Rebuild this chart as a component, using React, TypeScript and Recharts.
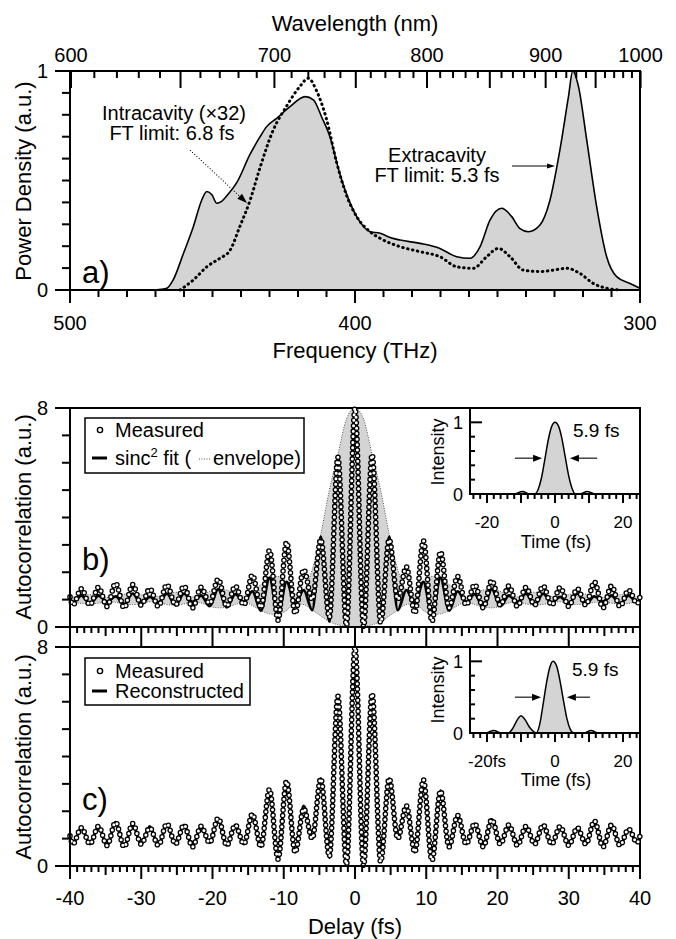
import React from 'react';
import {
  ComposedChart,
  Area,
  Line,
  XAxis,
  YAxis,
  ReferenceArea,
  ReferenceLine,
  CartesianGrid,
} from 'recharts';

const FONT = '"Liberation Sans", Arial, Helvetica, sans-serif';
const C_NM_THZ = 299792.458;
const GRAY = '#d4d4d4';

// ---------------- Panel a: spectra ----------------
const extFreq = [472, 468, 466, 463.8, 460.2, 456.7, 453.8, 452.0, 450.2, 448.5, 446.8, 445, 441.5, 436.8, 433.3, 431, 427.5, 422.8, 417.5, 414.6, 411.7, 408.8, 405.3, 401.8, 398.2, 394.7, 391.2, 387.7, 384.2, 377.2, 370.2, 364.3, 359.6, 356.1, 352.6, 348.5, 345, 342.1, 339.2, 335.1, 331.6, 328.1, 325.1, 323.6, 321.6, 318.7, 315.2, 311.7, 308.2, 303.5, 300];
const extPower = [0, 0.003, 0.008, 0.046, 0.167, 0.29, 0.41, 0.45, 0.435, 0.396, 0.405, 0.43, 0.49, 0.62, 0.7, 0.746, 0.784, 0.837, 0.883, 0.868, 0.79, 0.7, 0.53, 0.4, 0.31, 0.266, 0.259, 0.24, 0.228, 0.213, 0.19, 0.152, 0.145, 0.198, 0.32, 0.373, 0.335, 0.28, 0.266, 0.297, 0.41, 0.64, 0.883, 1.0, 0.93, 0.685, 0.38, 0.152, 0.061, 0.03, 0.008];
const intraFreq = [461.4, 456.7, 452, 447.4, 443.9, 440.4, 436.8, 433.3, 428.7, 424, 419.3, 416.4, 413.5, 410, 406.4, 402.9, 399.4, 394.7, 391.2, 384.2, 377.2, 370.2, 364.3, 358.5, 353.8, 349.7, 345.6, 341, 335.1, 330.4, 325.7, 321.1, 316.4, 311.7, 307];
const intraPower = [0, 0.046, 0.106, 0.145, 0.18, 0.29, 0.41, 0.56, 0.73, 0.84, 0.93, 0.967, 0.91, 0.78, 0.58, 0.43, 0.335, 0.266, 0.236, 0.198, 0.175, 0.152, 0.106, 0.099, 0.152, 0.19, 0.152, 0.091, 0.084, 0.091, 0.099, 0.076, 0.03, 0.008, 0];

const freqTicks = Array.from({ length: 21 }, (_, i) => 300 + 10 * i);
const freqLabels = [300, 400, 500];
const wavelengthTicks = Array.from({ length: 41 }, (_, i) => 600 + 10 * i);
const wavelengthLabels = [600, 700, 800, 900, 1000];
const powerTicks = [0, 0.1, 0.2, 0.3, 0.4, 0.5, 0.6, 0.7, 0.8, 0.9, 1];

// ---------------- Panels b, c: autocorrelation ----------------
const delays = [-40, -39.6, -38.4, -37.2, -36, -34.8, -33.6, -32.4, -31.2, -30, -28.8, -27.6, -26.4, -25.2, -24, -22.8, -21.6, -20.4, -19.2, -18, -16.8, -15.6, -14.4, -13.2, -12, -10.8, -9.6, -8.4, -7.2, -6, -4.8, -3.6, -2.4, -1.2, 0, 1.2, 2.4, 3.6, 4.8, 6, 7.2, 8.4, 9.6, 10.8, 12, 13.2, 14.4, 15.6, 16.8, 18, 19.2, 20.4, 21.6, 22.8, 24, 25.2, 26.4, 27.6, 28.8, 30, 31.2, 32.4, 33.6, 34.8, 36, 37.2, 38.4, 39.6, 40];
const measured = [1.1, 0.8, 1.4, 0.8, 1.45, 0.75, 1.6, 0.7, 1.55, 0.8, 1.4, 0.75, 1.55, 0.8, 1.5, 0.7, 1.45, 0.85, 1.75, 0.75, 1.5, 0.8, 1.9, 0.7, 2.8, 0.25, 3.1, 0.5, 2.1, 1.0, 3.2, 0.35, 6.2, 0.05, 8.0, 0.0, 6.3, 0.15, 3.2, 1.0, 2.2, 0.5, 3.15, 0.2, 2.75, 0.7, 1.85, 0.8, 1.55, 0.7, 1.7, 0.8, 1.5, 0.75, 1.45, 0.8, 1.5, 0.8, 1.45, 0.75, 1.4, 0.8, 1.65, 0.7, 1.5, 0.75, 1.35, 0.85, 1.1];
const sincFit = [1.0, 0.9, 1.15, 0.85, 1.15, 0.93, 1.12, 0.84, 1.22, 0.85, 1.1, 0.9, 1.22, 0.8, 1.22, 0.92, 1.15, 0.76, 1.38, 0.72, 1.2, 0.92, 1.3, 0.6, 1.8, 0.45, 1.65, 0.85, 1.35, 0.62, 3.3, 0.2, 6.2, 0.02, 8.0, 0.02, 6.2, 0.2, 3.3, 0.62, 1.35, 0.85, 1.65, 0.45, 1.8, 0.6, 1.3, 0.92, 1.2, 0.72, 1.38, 0.76, 1.15, 0.92, 1.22, 0.8, 1.22, 0.9, 1.1, 0.85, 1.22, 0.84, 1.12, 0.93, 1.15, 0.85, 1.15, 0.9, 1.0];
const envelopeHigh = [1.1, 1.1, 1.15, 1.18, 1.15, 1.08, 1.12, 1.2, 1.22, 1.18, 1.1, 1.12, 1.22, 1.27, 1.22, 1.1, 1.15, 1.3, 1.38, 1.35, 1.2, 1.1, 1.3, 1.55, 1.8, 1.85, 1.65, 1.2, 1.35, 2.1, 3.4, 5.0, 6.3, 7.6, 8.0, 7.6, 6.3, 5.0, 3.4, 2.1, 1.35, 1.2, 1.65, 1.85, 1.8, 1.55, 1.3, 1.1, 1.2, 1.35, 1.38, 1.3, 1.15, 1.1, 1.22, 1.27, 1.22, 1.12, 1.1, 1.18, 1.22, 1.2, 1.12, 1.08, 1.15, 1.18, 1.15, 1.1, 1.1];
const envelopeLow = [0.9, 0.9, 0.86, 0.85, 0.87, 0.93, 0.9, 0.84, 0.82, 0.85, 0.92, 0.9, 0.82, 0.8, 0.84, 0.92, 0.88, 0.76, 0.7, 0.72, 0.82, 0.92, 0.78, 0.6, 0.48, 0.45, 0.6, 0.85, 0.82, 0.62, 0.4, 0.2, 0.08, 0.02, 0, 0.02, 0.08, 0.2, 0.4, 0.62, 0.82, 0.85, 0.6, 0.45, 0.48, 0.6, 0.78, 0.92, 0.82, 0.72, 0.7, 0.76, 0.88, 0.92, 0.84, 0.8, 0.82, 0.9, 0.92, 0.85, 0.82, 0.84, 0.9, 0.93, 0.87, 0.85, 0.86, 0.9, 0.9];
const reconstructed = [1.1, 0.8, 1.4, 0.8, 1.45, 0.75, 1.6, 0.72, 1.5, 0.8, 1.45, 0.75, 1.5, 0.8, 1.5, 0.72, 1.45, 0.85, 1.7, 0.75, 1.5, 0.8, 1.9, 0.7, 2.75, 0.3, 3.1, 0.5, 2.2, 1.0, 3.2, 0.3, 6.2, 0.03, 8.0, 0.03, 6.25, 0.2, 3.2, 1.0, 2.2, 0.5, 3.1, 0.25, 2.75, 0.7, 1.85, 0.8, 1.55, 0.72, 1.7, 0.8, 1.5, 0.75, 1.45, 0.8, 1.5, 0.8, 1.45, 0.75, 1.4, 0.8, 1.6, 0.72, 1.5, 0.75, 1.35, 0.85, 1.1];

const delayTicks = Array.from({ length: 81 }, (_, i) => i - 40);
const delayLabels = [-40, -30, -20, -10, 0, 10, 20, 30, 40];
const acTicks = [0, 1, 2, 3, 4, 5, 6, 7, 8];

// ---------------- Insets: retrieved pulses ----------------
const pulseTimeB = [-25, -12, -9.6, -7.5, -6, -5, -4, -3, -2, -1, 0, 1, 2, 3, 4, 5, 6, 7.5, 9.4, 12, 25];
const pulseB = [0, 0, 0.035, 0, 0, 0.06, 0.22, 0.48, 0.75, 0.94, 1.0, 0.95, 0.78, 0.52, 0.26, 0.08, 0, 0, 0.035, 0, 0];
const pulseTimeC = [-25, -20.5, -18, -15.8, -13.7, -12.5, -11, -10, -9, -7.5, -6, -5.5, -4.5, -3.5, -2.5, -1.5, -0.6, 0.5, 1.5, 2.5, 3.5, 4.5, 5.5, 8.5, 10.6, 12.7, 25];
const pulseC = [0, 0, 0.035, 0, 0, 0.06, 0.19, 0.24, 0.2, 0.08, 0.01, 0, 0.12, 0.4, 0.7, 0.92, 1.0, 0.93, 0.72, 0.45, 0.2, 0.05, 0, 0, 0.035, 0, 0];
const insetTimeTicks = Array.from({ length: 25 }, (_, i) => -24 + 2 * i);
const insetTimeLabels = [-20, 0, 20];
const insetIntensityTicks = [0, 0.2, 0.4, 0.6, 0.8, 1];

// ---------------- tables ----------------
const spectrumRows = [
  ...extFreq.map((f, i) => ({ f, ext: extPower[i] })),
  ...intraFreq.map((f, i) => ({ f, intra: intraPower[i] })),
].sort((a, b) => b.f - a.f);

const acRows = delays.map((t, i) => ({
  t,
  meas: measured[i],
  fit: sincFit[i],
  rec: reconstructed[i],
  envHi: envelopeHigh[i],
  envLo: envelopeLow[i],
  env: [envelopeLow[i], envelopeHigh[i]],
}));

const pulseRowsB = pulseTimeB.map((t, i) => ({ t, v: pulseB[i] }));
const pulseRowsC = pulseTimeC.map((t, i) => ({ t, v: pulseC[i] }));

// ---------------- helpers ----------------
type TickCfg = {
  dx: number;
  dy: number;
  lenOf: (v: number) => number;
  labelOf: (v: number) => string | null;
  lx: number;
  ly: number;
  anchor: 'start' | 'middle' | 'end';
  fsz: number;
};

function CustomTick(props: any) {
  const { x, y, payload, cfg } = props;
  const c: TickCfg = cfg;
  const v = payload.value;
  const len = c.lenOf(v);
  const lab = c.labelOf(v);
  return (
    <g>
      {len > 0 && (
        <line x1={x} y1={y} x2={x + c.dx * len} y2={y + c.dy * len} stroke="#000" strokeWidth={2} />
      )}
      {lab != null && (
        <text x={x + c.lx} y={y + c.ly} textAnchor={c.anchor} fontSize={c.fsz} fontFamily={FONT} fill="#000">
          {lab}
        </text>
      )}
    </g>
  );
}

const near = (a: number, list: number[]) => list.some((b) => Math.abs(a - b) < 1e-6);

function makeArrow(dashed: boolean, headLen: number, headW: number) {
  return (p: any) => {
    const x1 = Number(p.x1);
    const y1 = Number(p.y1);
    const x2 = Number(p.x2);
    const y2 = Number(p.y2);
    const a = Math.atan2(y2 - y1, x2 - x1);
    const bx = x2 - Math.cos(a) * headLen;
    const by = y2 - Math.sin(a) * headLen;
    const nx = (-Math.sin(a) * headW) / 2;
    const ny = (Math.cos(a) * headW) / 2;
    return (
      <g>
        <line x1={x1} y1={y1} x2={bx} y2={by} stroke="#000" strokeWidth={1.1} strokeDasharray={dashed ? '1 2' : undefined} />
        <polygon points={`${x2},${y2} ${bx + nx},${by + ny} ${bx - nx},${by - ny}`} fill="#000" />
      </g>
    );
  };
}

const axisLineStyle = { stroke: '#000', strokeWidth: 2 };
const noAnim = { isAnimationActive: false };

// tick configs
const freqBottomCfg: TickCfg = {
  dx: 0, dy: 1,
  lenOf: (v) => (near(v, freqLabels) ? 13 : 7),
  labelOf: (v) => (near(v, freqLabels) ? String(v) : null),
  lx: 0, ly: 40, anchor: 'middle', fsz: 20,
};
const wavelengthTopCfg: TickCfg = {
  dx: 0, dy: 1,
  lenOf: (v) => (Math.round(C_NM_THZ / v) % 50 === 0 ? 17 : 7),
  labelOf: (v) => {
    const l = Math.round(C_NM_THZ / v);
    return wavelengthLabels.includes(l) ? String(l) : null;
  },
  lx: 0, ly: -9, anchor: 'middle', fsz: 20,
};
const powerLeftCfg: TickCfg = {
  dx: -1, dy: 0,
  lenOf: (v) => (v === 0 || v === 1 ? 15 : 8),
  labelOf: (v) => (v === 0 || v === 1 ? String(v) : null),
  lx: -22, ly: 7, anchor: 'end', fsz: 20,
};
const acLeftCfg: TickCfg = {
  dx: -1, dy: 0,
  lenOf: (v) => (v === 0 || v === 8 ? 15 : 8),
  labelOf: (v) => (v === 0 || v === 8 ? String(v) : null),
  lx: -22, ly: 7, anchor: 'end', fsz: 20,
};
const delayBottomCfgB: TickCfg = {
  dx: 0, dy: 1,
  lenOf: (v) => (v % 10 === 0 ? 12 : v % 5 === 0 ? 9 : 6),
  labelOf: () => null,
  lx: 0, ly: 0, anchor: 'middle', fsz: 20,
};
const delayBottomCfgC: TickCfg = {
  dx: 0, dy: 1,
  lenOf: (v) => (v % 10 === 0 ? 13 : v % 5 === 0 ? 9 : 6),
  labelOf: (v) => (near(v, delayLabels) ? String(v) : null),
  lx: 0, ly: 39, anchor: 'middle', fsz: 20,
};
const delayTopCfgC: TickCfg = {
  dx: 0, dy: -1,
  lenOf: (v) => (v % 10 === 0 ? 8 : 0),
  labelOf: () => null,
  lx: 0, ly: 0, anchor: 'middle', fsz: 20,
};
const insetLeftCfg: TickCfg = {
  dx: 1, dy: 0,
  lenOf: (v) => (v === 0 || v === 1 ? 12 : 5),
  labelOf: (v) => (v === 0 || v === 1 ? String(v) : null),
  lx: -7, ly: 7, anchor: 'end', fsz: 18,
};
const insetBottomCfg = (firstLabel: string): TickCfg => ({
  dx: 0, dy: 1,
  lenOf: (v) => (v % 10 === 0 ? 9 : 5),
  labelOf: (v) => (near(v, insetTimeLabels) ? (v === -20 ? firstLabel : String(v)) : null),
  lx: 0, ly: 34, anchor: 'middle', fsz: 17,
});

const Inset = ({ rows, top, firstLabel, arrows }: { rows: any[]; top: number; firstLabel: string; arrows: number[][] }) => (
  <div style={{ position: 'absolute', left: 420, top }}>
    <ComposedChart width={220} height={150} data={rows} margin={{ top: 0, right: 0, bottom: 0, left: 0 }}>
      <CartesianGrid fill="#fff" horizontal={false} vertical={false} />
      <XAxis dataKey="t" type="number" domain={[-25, 25]} ticks={insetTimeTicks} interval={0} height={150 - 86}
        tickLine={false} tickSize={0} tickMargin={0} axisLine={axisLineStyle} tick={<CustomTick cfg={insetBottomCfg(firstLabel)} />} />
      <YAxis type="number" domain={[0, 1.2]} ticks={insetIntensityTicks} interval={0} width={50}
        tickLine={false} tickSize={0} tickMargin={0} axisLine={axisLineStyle} tick={<CustomTick cfg={insetLeftCfg} />} />
      <Area dataKey="v" type="monotone" fill={GRAY} fillOpacity={1} stroke="#000" strokeWidth={1.5} dot={false} activeDot={false} {...noAnim} />
      <ReferenceArea x1={-25} x2={25} y1={0} y2={1.2} fill="none" stroke="#000" strokeWidth={2} />
      {arrows.map((a, i) => (
        <ReferenceLine key={i} segment={[{ x: a[0], y: 0.5 }, { x: a[1], y: 0.5 }]} shape={makeArrow(false, 9, 7)} />
      ))}
    </ComposedChart>
  </div>
);

export default function App() {
  return (
    <div style={{ position: 'absolute', left: 0, top: 0, width: 676, height: 939, background: '#fff', overflow: 'hidden' }}>
      {/* Panel a */}
      <div style={{ position: 'absolute', left: 0, top: 0 }}>
        <ComposedChart width={676} height={345} data={spectrumRows} margin={{ top: 0, right: 36, bottom: 0, left: 0 }}>
          <XAxis xAxisId="bot" dataKey="f" type="number" domain={[300, 500]} reversed ticks={freqTicks} interval={0}
            height={55} tickLine={false} tickSize={0} tickMargin={0} axisLine={axisLineStyle} tick={<CustomTick cfg={freqBottomCfg} />} />
          <XAxis xAxisId="top" orientation="top" dataKey="f" type="number" domain={[300, 500]} reversed
            ticks={wavelengthTicks.map((l) => C_NM_THZ / l)} interval={0} height={71} tickLine={false} tickSize={0} tickMargin={0}
            axisLine={axisLineStyle} tick={<CustomTick cfg={wavelengthTopCfg} />} />
          <YAxis yAxisId="l" type="number" domain={[0, 1]} ticks={powerTicks} interval={0} width={70}
            tickLine={false} tickSize={0} tickMargin={0} axisLine={axisLineStyle} tick={<CustomTick cfg={powerLeftCfg} />} />
          <Area xAxisId="bot" yAxisId="l" dataKey="ext" type="monotone" fill={GRAY} fillOpacity={1} stroke="#000"
            strokeWidth={1.6} connectNulls dot={false} activeDot={false} {...noAnim} />
          <Line xAxisId="top" yAxisId="l" dataKey="intra" type="monotone" stroke="#000" strokeWidth={3}
            strokeDasharray="0.5 4.5" strokeLinecap="round" connectNulls dot={false} activeDot={false} {...noAnim} />
          <ReferenceArea xAxisId="bot" yAxisId="l" x1={300} x2={500} y1={0} y2={1} fill="none" stroke="#000" strokeWidth={2} />
          <ReferenceLine xAxisId="bot" yAxisId="l" segment={[{ x: 457.9, y: 0.639 }, { x: 437.9, y: 0.397 }]} shape={makeArrow(true, 10, 7)} />
          <ReferenceLine xAxisId="bot" yAxisId="l" segment={[{ x: 344.9, y: 0.566 }, { x: 329.8, y: 0.566 }]} shape={makeArrow(false, 8, 5)} />
        </ComposedChart>
      </div>

      {/* Panel b */}
      <div style={{ position: 'absolute', left: 0, top: 340 }}>
        <ComposedChart width={676} height={310} data={acRows} margin={{ top: 68, right: 36, bottom: 0, left: 0 }}>
          <XAxis dataKey="t" type="number" domain={[-40, 40]} ticks={delayTicks} interval={0} height={23}
            tickLine={false} tickSize={0} tickMargin={0} axisLine={axisLineStyle} tick={<CustomTick cfg={delayBottomCfgB} />} />
          <YAxis type="number" domain={[0, 8]} ticks={acTicks} interval={0} width={70}
            tickLine={false} tickSize={0} tickMargin={0} axisLine={axisLineStyle} tick={<CustomTick cfg={acLeftCfg} />} />
          <Area dataKey="env" type="monotone" fill={GRAY} fillOpacity={1} stroke="none" dot={false} activeDot={false} {...noAnim} />
          <Line dataKey="envHi" type="monotone" stroke="#555" strokeWidth={1} strokeDasharray="1 1.5" dot={false} activeDot={false} {...noAnim} />
          <Line dataKey="envLo" type="monotone" stroke="#555" strokeWidth={1} strokeDasharray="1 1.5" dot={false} activeDot={false} {...noAnim} />
          <Line dataKey="fit" type="monotone" stroke="#000" strokeWidth={2.8} dot={false} activeDot={false} {...noAnim} />
          <Line dataKey="meas" type="monotone" stroke="#000" strokeWidth={5.6} strokeDasharray="0 5.5" strokeLinecap="round" dot={false} activeDot={false} {...noAnim} />
          <Line dataKey="meas" type="monotone" stroke="#fff" strokeWidth={3} strokeDasharray="0 5.5" strokeLinecap="round" dot={false} activeDot={false} {...noAnim} />
          <ReferenceArea x1={-40} x2={40} y1={0} y2={8} fill="none" stroke="#000" strokeWidth={2} />
        </ComposedChart>
      </div>

      {/* Panel c */}
      <div style={{ position: 'absolute', left: 0, top: 620 }}>
        <ComposedChart width={676} height={319} data={acRows} margin={{ top: 0, right: 36, bottom: 0, left: 0 }}>
          <XAxis xAxisId="bot" dataKey="t" type="number" domain={[-40, 40]} ticks={delayTicks} interval={0} height={73}
            tickLine={false} tickSize={0} tickMargin={0} axisLine={axisLineStyle} tick={<CustomTick cfg={delayBottomCfgC} />} />
          <XAxis xAxisId="top" orientation="top" dataKey="t" type="number" domain={[-40, 40]} ticks={delayLabels} interval={0} height={27}
            tickLine={false} tickSize={0} tickMargin={0} axisLine={axisLineStyle} tick={<CustomTick cfg={delayTopCfgC} />} />
          <YAxis yAxisId="l" type="number" domain={[0, 8]} ticks={acTicks} interval={0} width={70}
            tickLine={false} tickSize={0} tickMargin={0} axisLine={axisLineStyle} tick={<CustomTick cfg={acLeftCfg} />} />
          <Line xAxisId="bot" yAxisId="l" dataKey="rec" type="monotone" stroke="#000" strokeWidth={2.8} dot={false} activeDot={false} {...noAnim} />
          <Line xAxisId="bot" yAxisId="l" dataKey="meas" type="monotone" stroke="#000" strokeWidth={5.6} strokeDasharray="0 5.5" strokeLinecap="round" dot={false} activeDot={false} {...noAnim} />
          <Line xAxisId="top" yAxisId="l" dataKey="meas" type="monotone" stroke="#fff" strokeWidth={3} strokeDasharray="0 5.5" strokeLinecap="round" dot={false} activeDot={false} {...noAnim} />
          <ReferenceArea xAxisId="bot" yAxisId="l" x1={-40} x2={40} y1={0} y2={8} fill="none" stroke="#000" strokeWidth={2} />
        </ComposedChart>
      </div>

      {/* Insets */}
      <Inset rows={pulseRowsB} top={408} firstLabel="-20" arrows={[[-11.8, -3.8], [12.4, 4.4]]} />
      <Inset rows={pulseRowsC} top={647} firstLabel="-20fs" arrows={[[-11.8, -4.1], [10.3, 3.5]]} />

      {/* Text overlay */}
      <svg width={676} height={939} style={{ position: 'absolute', left: 0, top: 0, pointerEvents: 'none' }} fontFamily={FONT}>
        <text x={355} y={31} fontSize={22} textAnchor="middle">Wavelength (nm)</text>
        <text x={355} y={358} fontSize={22} textAnchor="middle">Frequency (THz)</text>
        <text x={355} y={934} fontSize={22} textAnchor="middle">Delay (fs)</text>
        <text transform="translate(31,181) rotate(-90)" fontSize={22} textAnchor="middle">Power Density (a.u.)</text>
        <text transform="translate(31,517) rotate(-90)" fontSize={22} textAnchor="middle">Autocorrelation (a.u.)</text>
        <text transform="translate(31,757) rotate(-90)" fontSize={22} textAnchor="middle">Autocorrelation (a.u.)</text>

        <text x={82} y={283} fontSize={31}>a)</text>
        <text x={82} y={570} fontSize={31}>b)</text>
        <text x={82} y={810} fontSize={31}>c)</text>

        <text x={174} y={120} fontSize={20} textAnchor="middle">Intracavity (×32)</text>
        <text x={172} y={140} fontSize={20} textAnchor="middle">FT limit: 6.8 fs</text>
        <text x={437} y={162} fontSize={20} textAnchor="middle">Extracavity</text>
        <text x={437} y={182} fontSize={20} textAnchor="middle">FT limit: 5.3 fs</text>

        {/* legend b */}
        <rect x={85} y={418} width={219} height={55} fill="#fff" stroke="#000" strokeWidth={1.5} />
        <circle cx={100} cy={430} r={2.6} fill="#fff" stroke="#000" strokeWidth={1.4} />
        <text x={115} y={437} fontSize={20}>Measured</text>
        <line x1={92} y1={458} x2={107} y2={458} stroke="#000" strokeWidth={3} />
        <text x={115} y={465} fontSize={20}>
          sinc<tspan dy={-8} fontSize={13}>2</tspan>
          <tspan dy={8}> fit (</tspan>
        </text>
        <line x1={199} y1={459} x2={211} y2={459} stroke="#555" strokeWidth={1} strokeDasharray="1 1.5" />
        <text x={213} y={465} fontSize={20}>envelope)</text>

        {/* legend c */}
        <rect x={85} y={658} width={165} height={47} fill="#fff" stroke="#000" strokeWidth={1.5} />
        <circle cx={100} cy={671} r={2.6} fill="#fff" stroke="#000" strokeWidth={1.4} />
        <text x={115} y={678} fontSize={20}>Measured</text>
        <line x1={92} y1={691} x2={107} y2={691} stroke="#000" strokeWidth={3} />
        <text x={115} y={698} fontSize={20}>Reconstructed</text>

        {/* inset labels */}
        <text transform="translate(444,452) rotate(-90)" fontSize={18} textAnchor="middle">Intensity</text>
        <text x={556} y={548} fontSize={18} textAnchor="middle">Time (fs)</text>
        <text x={573} y={437} fontSize={19}>5.9 fs</text>
        <text transform="translate(444,690) rotate(-90)" fontSize={18} textAnchor="middle">Intensity</text>
        <text x={556} y={786} fontSize={18} textAnchor="middle">Time (fs)</text>
        <text x={572} y={676} fontSize={19}>5.9 fs</text>
      </svg>
    </div>
  );
}
